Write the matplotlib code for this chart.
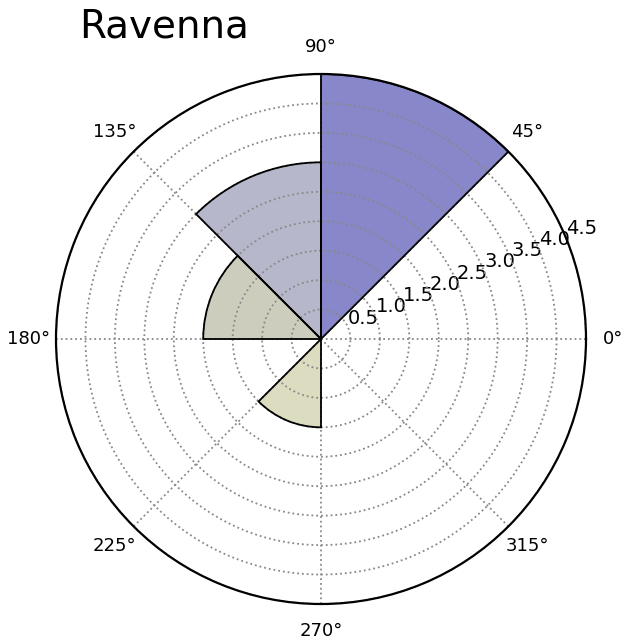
import numpy as np
import matplotlib
matplotlib.use("Agg")
from matplotlib import pyplot as plt

# wind sectors (degrees, start of each 45 degree wedge) and their values
sector_start = [0, 45, 90, 135, 180, 225, 270, 315]
sector_value = [0, 4.5, 3.0, 2.0, 0, 1.5, 0, 0]
sector_color = ['#ffffff', '#8787c9', '#b7b7cb', '#cdcdbd', '#ffffff',
                '#dcdcc0', '#ffffff', '#ffffff']
r_ticks = [0.5, 1.0, 1.5, 2.0, 2.5, 3.0, 3.5, 4.0, 4.5]
title = "Ravenna"

fig = plt.figure(figsize=(6.25, 6.44), dpi=100)
ax = fig.add_axes([0.0896, 0.0621, 0.848, 0.823], projection='polar')

theta = np.radians(sector_start)
width = np.radians(45)
for t, v, c in zip(theta, sector_value, sector_color):
    if v > 0:
        # fill under the grid, outline above it
        ax.bar(t, v, width=width, bottom=0.0, align='edge',
               color=c, edgecolor='none', zorder=1)
        ax.bar(t, v, width=width, bottom=0.0, align='edge',
               fill=False, edgecolor='black', linewidth=1.3, zorder=4)

ax.set_ylim(0, 4.5)
ax.set_yticks(r_ticks)
ax.set_yticklabels(["%.1f" % r for r in r_ticks], fontsize=14)
ax.set_rlabel_position(22.5)
ax.set_thetagrids(np.arange(0, 360, 45),
                  ["%d\u00b0" % a for a in range(0, 360, 45)], fontsize=13)
ax.tick_params(axis='x', pad=9)
ax.grid(True, linestyle=':', color='#888888', linewidth=1.3)
for gl in ax.get_xgridlines() + ax.get_ygridlines():
    gl.set_zorder(3)
ax.spines['polar'].set_linewidth(1.6)
ax.spines['polar'].set_zorder(5)

fig.text(0.127, 0.93, title, fontsize=28, ha='left', va='bottom')

plt.savefig("out.png", dpi=100)
